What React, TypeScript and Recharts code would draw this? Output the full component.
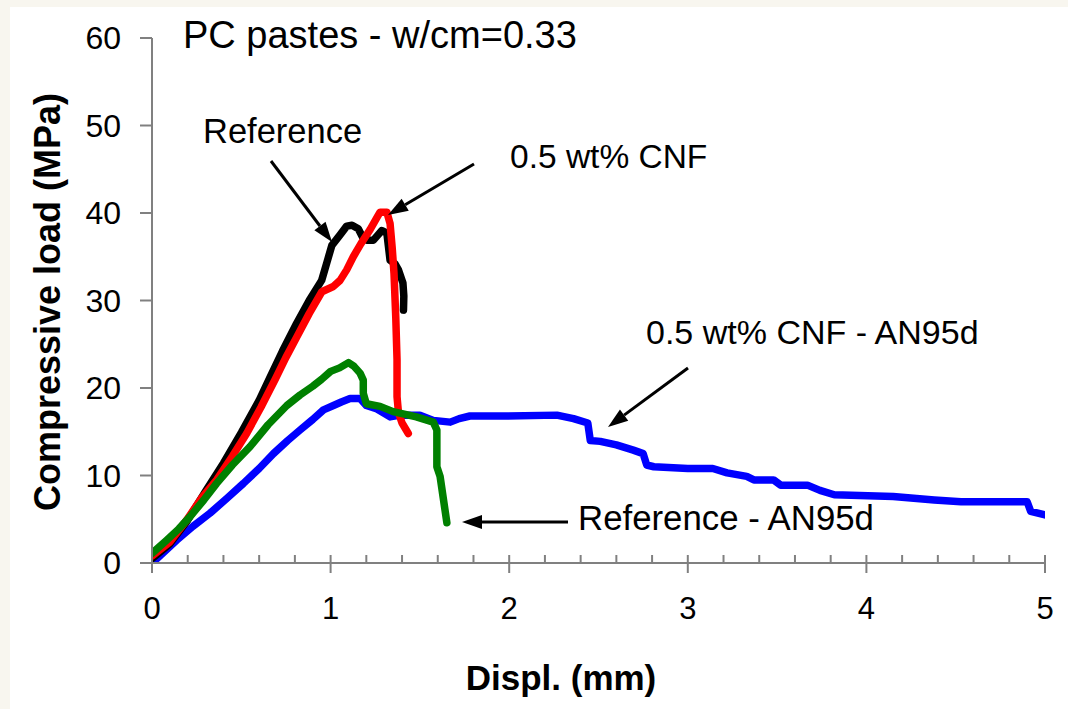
import React from "react";
import { LineChart, Line, XAxis, YAxis } from "recharts";

// Displacement (mm), compressive load (MPa) pairs
const referenceCurve: [number, number][] = [
  [0, 0.5], [0.1, 2.2], [0.2, 4.9], [0.3, 8.2], [0.4, 11.4], [0.5, 14.9], [0.6, 18.6],
  [0.66, 21.2], [0.73, 24.2], [0.81, 27.4], [0.88, 30.0], [0.95, 32.3], [0.98, 34.4],
  [1.007, 36.3], [1.053, 37.5], [1.09, 38.5], [1.12, 38.6], [1.155, 38.2], [1.18, 37.2],
  [1.203, 36.9], [1.24, 36.9], [1.287, 38.0], [1.315, 37.7], [1.333, 34.6], [1.36, 34.2],
  [1.38, 33.5], [1.405, 32.0], [1.41, 30.5], [1.408, 28.9],
];

const cnfCurve: [number, number][] = [
  [0, 0.8], [0.1, 2.4], [0.194, 4.9], [0.28, 7.5], [0.362, 9.5], [0.45, 12.2], [0.53, 14.8],
  [0.61, 17.8], [0.69, 21.0], [0.75, 23.5], [0.81, 25.8], [0.88, 28.5], [0.951, 31.0],
  [1.015, 31.6], [1.053, 32.3], [1.09, 33.5], [1.127, 35.0], [1.17, 36.5], [1.221, 38.1],
  [1.26, 39.5], [1.277, 40.1], [1.315, 40.1], [1.333, 38.8], [1.345, 36.0], [1.355, 33.1],
  [1.365, 28.0], [1.372, 23.2], [1.372, 19.0], [1.38, 17.2], [1.4, 16.0], [1.435, 14.8],
];

const referenceAN95dCurve: [number, number][] = [
  [0, 1.1], [0.082, 2.6], [0.15, 3.9], [0.213, 5.3], [0.29, 7.2], [0.362, 9.1], [0.45, 11.2],
  [0.549, 13.3], [0.65, 15.8], [0.755, 18.0], [0.829, 19.2], [0.9, 20.2], [0.95, 21.0],
  [1.0, 21.9], [1.05, 22.3], [1.1, 22.9], [1.13, 22.5], [1.165, 21.7], [1.183, 20.9],
  [1.183, 19.4], [1.2, 18.2], [1.277, 17.9], [1.35, 17.3], [1.48, 16.7], [1.575, 16.1],
  [1.595, 15.2], [1.595, 11.0], [1.613, 9.9], [1.651, 4.6],
];

const cnfAN95dCurve: [number, number][] = [
  [0, 0], [0.017, 0.3], [0.138, 2.6], [0.23, 4.2], [0.325, 5.7], [0.42, 7.4], [0.512, 9.1],
  [0.6, 10.8], [0.68, 12.5], [0.76, 14.0], [0.829, 15.2], [0.9, 16.4], [0.96, 17.5],
  [1.016, 18.0], [1.06, 18.4], [1.109, 18.8], [1.165, 18.8], [1.2, 18.0], [1.26, 17.6],
  [1.333, 16.7], [1.39, 16.9], [1.5, 16.9], [1.575, 16.3], [1.67, 16.1], [1.72, 16.5],
  [1.78, 16.8], [1.97, 16.8], [2.267, 16.9], [2.36, 16.5], [2.44, 16.0], [2.454, 14.0],
  [2.51, 13.9], [2.6, 13.5], [2.695, 12.9], [2.75, 12.5], [2.77, 11.2], [2.81, 11.0],
  [3.0, 10.8], [3.14, 10.8], [3.22, 10.3], [3.33, 9.9], [3.37, 9.5], [3.48, 9.5],
  [3.52, 8.9], [3.67, 8.9], [3.74, 8.3], [3.82, 7.8], [4.15, 7.6], [4.38, 7.2], [4.53, 7.0],
  [4.9, 7.0], [4.92, 5.9], [5.0, 5.5],
];

const yTicks = [0, 10, 20, 30, 40, 50, 60];
const xMajorTicks = [0, 1, 2, 3, 4, 5];
const xAllTicks = Array.from({ length: 26 }, (_, i) => Math.round(i * 2) / 10);

const toRows = (pts: [number, number][]) => pts.map(([x, y]) => ({ x, y }));

const FONT = "'Liberation Sans', Arial, Helvetica, sans-serif";
const AXIS = "#808080";

const XTick = (props: any) => {
  const { x, y, payload } = props;
  const v = payload.value as number;
  const major = xMajorTicks.some((t) => Math.abs(t - v) < 1e-6);
  return (
    <g>
      <line x1={x} x2={x} y1={y - 8} y2={major ? y + 10 : y} stroke={AXIS} strokeWidth={2} />
      {major && (
        <text x={x} y={y + 56} textAnchor="middle" fontSize={31} fontFamily={FONT} fill="#000">
          {Math.round(v)}
        </text>
      )}
    </g>
  );
};

const Arrow = ({ x1, y1, x2, y2 }: { x1: number; y1: number; x2: number; y2: number }) => {
  const ang = Math.atan2(y2 - y1, x2 - x1);
  const len = 20;
  const w = 7;
  const bx = x2 - len * Math.cos(ang);
  const by = y2 - len * Math.sin(ang);
  const px = -Math.sin(ang) * w;
  const py = Math.cos(ang) * w;
  return (
    <g>
      <line x1={x1} y1={y1} x2={bx} y2={by} stroke="#000" strokeWidth={3} />
      <polygon points={`${x2},${y2} ${bx + px},${by + py} ${bx - px},${by - py}`} fill="#000" />
    </g>
  );
};

export default function App() {
  return (
    <div style={{ position: "relative", width: 1068, height: 709, background: "#f8f6ef", overflow: "hidden" }}>
      <style>{`body{margin:0;}`}</style>
      <div style={{ position: "absolute", left: 10, top: 7, width: 1058, height: 702, background: "#ffffff" }} />
      <div style={{ position: "absolute", left: 0, top: 0 }}>
        <LineChart width={1068} height={709} margin={{ top: 38, right: 23, bottom: 0, left: 0 }}>
          <XAxis
            dataKey="x"
            type="number"
            domain={[0, 5]}
            ticks={xAllTicks}
            interval={0}
            height={146}
            tickSize={0}
            tickMargin={0}
            tickLine={false}
            axisLine={{ stroke: AXIS, strokeWidth: 2 }}
            tick={<XTick />}
            allowDataOverflow
          />
          <YAxis
            type="number"
            domain={[0, 60]}
            ticks={yTicks}
            width={152}
            tickSize={12}
            tickMargin={19}
            axisLine={{ stroke: AXIS, strokeWidth: 2 }}
            tickLine={{ stroke: AXIS, strokeWidth: 2 }}
            tick={{ fontSize: 32, fill: "#000", fontFamily: FONT }}
            allowDataOverflow
          />
          <Line data={toRows(cnfAN95dCurve)} dataKey="y" stroke="#0000ff" strokeWidth={7.5} dot={false} type="linear" strokeLinejoin="round" strokeLinecap="round" isAnimationActive={false} />
          <Line data={toRows(referenceCurve)} dataKey="y" stroke="#000000" strokeWidth={7.5} dot={false} type="linear" strokeLinejoin="round" strokeLinecap="round" isAnimationActive={false} />
          <Line data={toRows(cnfCurve)} dataKey="y" stroke="#ff0000" strokeWidth={7.5} dot={false} type="linear" strokeLinejoin="round" strokeLinecap="round" isAnimationActive={false} />
          <Line data={toRows(referenceAN95dCurve)} dataKey="y" stroke="#008000" strokeWidth={7.5} dot={false} type="linear" strokeLinejoin="round" strokeLinecap="round" isAnimationActive={false} />
        </LineChart>
      </div>
      <svg width={1068} height={709} style={{ position: "absolute", left: 0, top: 0, pointerEvents: "none" }}>
        <text x={183} y={48} fontSize={38} fontFamily={FONT} fill="#000">PC pastes - w/cm=0.33</text>
        <text x={203} y={143} fontSize={34.5} fontFamily={FONT} fill="#000">Reference</text>
        <text x={510} y={168} fontSize={33.5} fontFamily={FONT} fill="#000">0.5 wt% CNF</text>
        <text x={646} y={344} fontSize={34} fontFamily={FONT} fill="#000">0.5 wt% CNF - AN95d</text>
        <text x={578} y={530} fontSize={34.8} fontFamily={FONT} fill="#000">Reference - AN95d</text>
        <Arrow x1={271} y1={161} x2={332} y2={242} />
        <Arrow x1={474} y1={164} x2={388} y2={215} />
        <Arrow x1={688} y1={368} x2={608} y2={427} />
        <Arrow x1={568} y1={522} x2={462} y2={522} />
        <text
          x={0}
          y={0}
          transform="translate(60,302) rotate(-90)"
          textAnchor="middle"
          fontSize={36}
          fontWeight="bold"
          fontFamily={FONT}
          fill="#000"
        >
          Compressive load (MPa)
        </text>
        <text x={561} y={690} textAnchor="middle" fontSize={35} fontWeight="bold" fontFamily={FONT} fill="#000">
          Displ. (mm)
        </text>
      </svg>
    </div>
  );
}
